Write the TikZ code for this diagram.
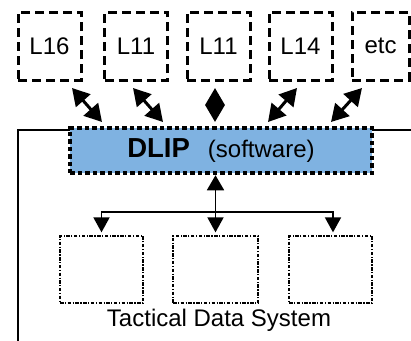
\documentclass[tikz,border=0pt]{standalone}
\usepackage{fontspec}
\setmainfont{Liberation Sans}
\usetikzlibrary{arrows.meta}

\definecolor{dlipblue}{RGB}{127,178,225}

\begin{document}
\begin{tikzpicture}[x=1pt, y=-1pt,
  linkbox/.style={draw, line width=3pt, dash pattern=on 9pt off 5pt,
    minimum width=63pt, minimum height=68pt, inner sep=0pt,
    font=\fontsize{24}{27}\selectfont},
  tdsbox/.style={draw, line width=1.3pt, dash pattern=on 3.5pt off 1.5pt on 1.2pt off 1.5pt,
    minimum width=83pt, minimum height=67pt, inner sep=0pt},
  linkarrow/.style={line width=3pt, {Triangle[length=17pt,width=19pt]}-{Triangle[length=17pt,width=19pt]}},
  busarrow/.style={line width=1.8pt, -{Triangle[length=15pt,width=16pt]}}
]
\useasboundingbox (0,0) rectangle (411,340);
\clip (0,0) rectangle (411,340);

% link boxes along the top
\draw (49.5, 46) node[linkbox] (l16) {L16};
\draw (136, 46) node[linkbox] (l11a) {L11};
\draw (218.5, 46) node[linkbox] (l11b) {L11};
\draw (300.5, 46) node[linkbox] (l14) {L14};
\draw (380.5, 46) node[linkbox, minimum width=57pt] (etc) {etc};

% tactical data system
\draw (17, 129) node[draw, line width=2pt, anchor=north west,
  minimum width=420pt, minimum height=240pt] (tds) {};
\draw (221, 150.5)
  node[draw, fill=dlipblue, line width=4.5pt, dash pattern=on 4.5pt off 3pt,
       minimum width=302pt, minimum height=45pt, inner sep=0pt] (dlip) {
{\fontsize{27.5}{30}\selectfont\bfseries DLIP}\hspace{18pt}{\fontsize{24}{27}\selectfont(software)}
};

\draw (101.5, 269.5) node[tdsbox] (suba) {};
\draw (215.5, 269.5) node[tdsbox, minimum width=85pt] (subb) {};
\draw (330.5, 269.5) node[tdsbox] (subc) {};
\draw (219, 320) node[font=\fontsize{24}{27}\selectfont] (tdslabel) {Tactical Data System};

% link arrows
\coordinate (a1) at (72, 88);  \coordinate (b1) at (102, 122);
\coordinate (a2) at (133, 88); \coordinate (b2) at (163, 122);
\coordinate (a3) at (215, 88); \coordinate (b3) at (215, 122);
\coordinate (a4) at (297, 88); \coordinate (b4) at (268, 122);
\coordinate (a5) at (362, 88); \coordinate (b5) at (331, 122);
\draw[linkarrow] (a1) -- (b1);
\draw[linkarrow] (a2) -- (b2);
\draw[linkarrow] (a3) -- (b3);
\draw[linkarrow] (a4) -- (b4);
\draw[linkarrow] (a5) -- (b5);

% internal bus
\coordinate (split) at (215.5, 212);
\draw[busarrow, {Triangle[length=15pt,width=17pt]}-{Triangle[length=15pt,width=16pt]}]
  (dlip.south -| subb.north) -- ([yshift=3pt]subb.north);
\draw[busarrow] (split) -| ([yshift=3pt]suba.north);
\draw[busarrow] (split) -| ([xshift=2.5pt, yshift=3pt]subc.north);
\end{tikzpicture}
\end{document}
